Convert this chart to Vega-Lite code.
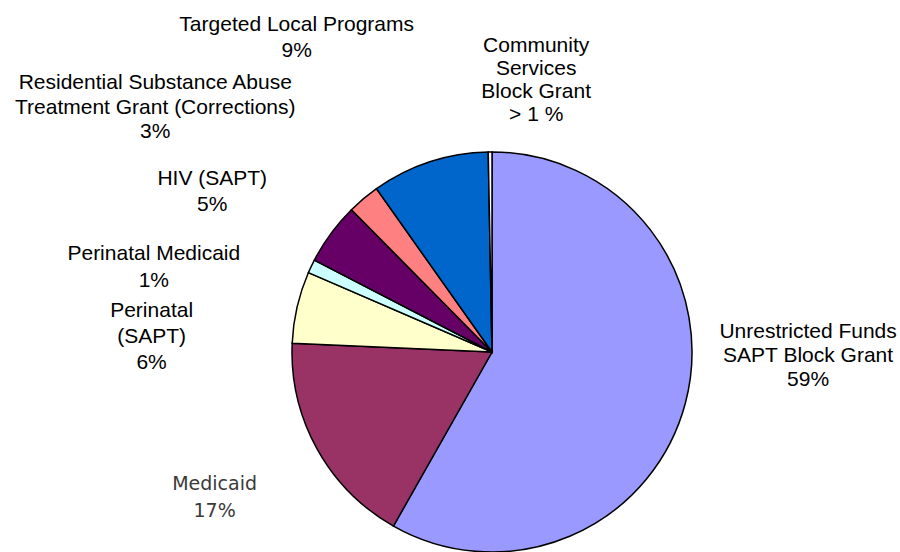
{
  "$schema": "https://vega.github.io/schema/vega-lite/v6.json",
  "width": 400,
  "height": 400,
  "autosize": {"type": "none"},
  "padding": {"left": 292, "top": 152, "right": 208, "bottom": 0},
  "background": "white",
  "view": {"stroke": null},
  "data": {
    "values": [
      {"i": 1, "cat": "Unrestricted Funds SAPT Block Grant", "value": 58.2, "label": ["Unrestricted Funds", "SAPT Block Grant", "59%"]},
      {"i": 2, "cat": "Medicaid", "value": 17.5, "label": ["Medicaid", "17%"]},
      {"i": 3, "cat": "Perinatal (SAPT)", "value": 5.8, "label": ["Perinatal", "(SAPT)", "6%"]},
      {"i": 4, "cat": "Perinatal Medicaid", "value": 1.1, "label": ["Perinatal Medicaid", "1%"]},
      {"i": 5, "cat": "HIV (SAPT)", "value": 5.0, "label": ["HIV (SAPT)", "5%"]},
      {"i": 6, "cat": "Residential Substance Abuse Treatment Grant (Corrections)", "value": 2.6, "label": ["Residential Substance Abuse", "Treatment Grant (Corrections)", "3%"]},
      {"i": 7, "cat": "Targeted Local Programs", "value": 9.5, "label": ["Targeted Local Programs", "9%"]},
      {"i": 8, "cat": "Community Services Block Grant", "value": 0.3, "label": ["Community", "Services", "Block Grant", "> 1 %"]}
    ]
  },
  "encoding": {
    "theta": {"field": "value", "type": "quantitative", "stack": true, "scale": {"domain": [0, 100]}},
    "order": {"field": "i", "type": "quantitative"},
    "detail": {"field": "cat", "type": "nominal"}
  },
  "layer": [
    {
      "mark": {"type": "arc", "stroke": "black", "strokeWidth": 1.5},
      "encoding": {
        "color": {
          "field": "cat", "type": "nominal", "legend": null,
          "scale": {
            "domain": ["Unrestricted Funds SAPT Block Grant", "Medicaid", "Perinatal (SAPT)", "Perinatal Medicaid", "HIV (SAPT)", "Residential Substance Abuse Treatment Grant (Corrections)", "Targeted Local Programs", "Community Services Block Grant"],
            "range": ["#9999FF", "#993366", "#FFFFCC", "#CCFFFF", "#660066", "#FF8080", "#0066CC", "#FFFFFF"]
          }
        }
      }
    },
    {
      "mark": {"type": "text", "radius": 300, "dx": 26, "dy": -90, "font": "Liberation Sans", "fontSize": 21, "lineHeight": 24, "baseline": "alphabetic", "align": "center", "color": "black"},
      "encoding": {"text": {"condition": {"test": "datum.i == 1", "field": "label"}, "value": ""}}
    },
    {
      "mark": {"type": "text", "radius": 300, "dx": -15, "dy": -7, "font": "DejaVu Sans", "fontSize": 19, "lineHeight": 27, "baseline": "alphabetic", "align": "center", "color": "#3a3a3a"},
      "encoding": {"text": {"condition": {"test": "datum.i == 2", "field": "label"}, "value": ""}}
    },
    {
      "mark": {"type": "text", "radius": 338, "dx": -11, "dy": 41, "font": "Liberation Sans", "fontSize": 21, "lineHeight": 26, "baseline": "alphabetic", "align": "center", "color": "black"},
      "encoding": {"text": {"condition": {"test": "datum.i == 3", "field": "label"}, "value": ""}}
    },
    {
      "mark": {"type": "text", "radius": 340, "dx": -31, "dy": 54, "font": "Liberation Sans", "fontSize": 21, "lineHeight": 27, "baseline": "alphabetic", "align": "center", "color": "black"},
      "encoding": {"text": {"condition": {"test": "datum.i == 4", "field": "label"}, "value": ""}}
    },
    {
      "mark": {"type": "text", "radius": 325, "dx": -18, "dy": 26, "font": "Liberation Sans", "fontSize": 21, "lineHeight": 26, "baseline": "alphabetic", "align": "center", "color": "black"},
      "encoding": {"text": {"condition": {"test": "datum.i == 5", "field": "label"}, "value": ""}}
    },
    {
      "mark": {"type": "text", "radius": 420, "dx": -67, "dy": 59, "font": "Liberation Sans", "fontSize": 21, "lineHeight": 24.5, "baseline": "alphabetic", "align": "center", "color": "black"},
      "encoding": {"text": {"condition": {"test": "datum.i == 6", "field": "label"}, "value": ""}}
    },
    {
      "mark": {"type": "text", "radius": 360, "dx": -83, "dy": 21, "font": "Liberation Sans", "fontSize": 21, "lineHeight": 26, "baseline": "alphabetic", "align": "center", "color": "black"},
      "encoding": {"text": {"condition": {"test": "datum.i == 7", "field": "label"}, "value": ""}}
    },
    {
      "mark": {"type": "text", "radius": 300, "dx": 47, "dy": 0, "font": "Liberation Sans", "fontSize": 21, "lineHeight": 23, "baseline": "alphabetic", "align": "center", "color": "black"},
      "encoding": {"text": {"condition": {"test": "datum.i == 8", "field": "label"}, "value": ""}}
    }
  ]
}
